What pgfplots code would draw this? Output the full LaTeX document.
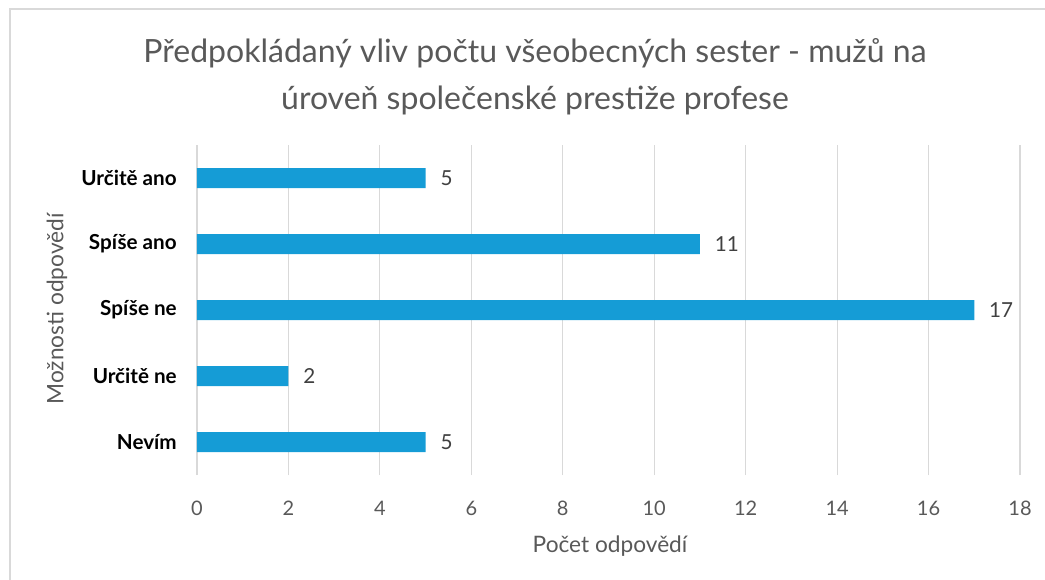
\documentclass[border=0pt]{standalone}
\usepackage{fontspec}
\setmainfont{Lato}
\usepackage{pgfplots}
\pgfplotsset{compat=1.18}
\definecolor{barblue}{RGB}{21,156,214}
\definecolor{gridgray}{RGB}{217,217,217}
\definecolor{txtgray}{RGB}{89,89,89}
\definecolor{lblgray}{RGB}{64,64,64}

\begin{document}
\begin{tikzpicture}
\begin{axis}[
  at={(0,0)}, anchor=south west,
  scale only axis,
  width=617.25pt, height=247.5pt,
  xbar, bar width=15pt,
  xmin=0, xmax=18,
  ymin=0.5, ymax=5.5,
  xtick={0,2,...,18},
  ytick={1,2,3,4,5},
  yticklabels={Nevím,Určitě ne,Spíše ne,Spíše ano,Určitě ano},
  axis line style={draw=none},
  major tick length=0pt,
  xmajorgrids=true,
  grid style={gridgray, line width=0.9pt},
  /pgf/number format/assume math mode=true,
  xticklabel style={font=\fontsize{15}{17}\selectfont, text=txtgray, anchor=base, inner sep=0pt, yshift=-30pt},
  yticklabel style={font=\fontsize{15.5}{18}\selectfont\bfseries, text=black, anchor=east, inner sep=0pt, xshift=-15pt},
  nodes near coords,
  nodes near coords style={font=\fontsize{15.5}{18}\selectfont, text=lblgray, anchor=west, inner sep=0pt, xshift=11pt},
  clip=false,
]
\addplot[fill=barblue, draw=none] coordinates {
  (5,1) (2,2) (17,3) (11,4) (5,5)
};
\end{axis}
% chart frame (top and left edges visible)
\draw[gridgray, line width=1.2pt] (-140.25pt,-80pt) -- (-140.25pt,349.5pt) -- (640pt,349.5pt);
% title and axis titles
\node[text=txtgray, font=\fontsize{24}{28}\selectfont, anchor=base, inner sep=0pt] at (253.5pt,309pt) {Předpokládaný vliv počtu všeobecných sester - mužů na};
\node[text=txtgray, font=\fontsize{24}{28}\selectfont, anchor=base, inner sep=0pt] at (253.5pt,273.75pt) {úroveň společenské prestiže profese};
\node[text=txtgray, font=\fontsize{17}{20}\selectfont, anchor=base, inner sep=0pt] at (309.75pt,-57.75pt) {Počet odpovědí};
\node[text=txtgray, font=\fontsize{17}{20}\selectfont, rotate=90] at (-105pt,124.5pt) {Možnosti odpovědí};
\pgfresetboundingbox
\useasboundingbox (-147.75pt,-78pt) rectangle (636pt,356.25pt);
\end{tikzpicture}
\end{document}
